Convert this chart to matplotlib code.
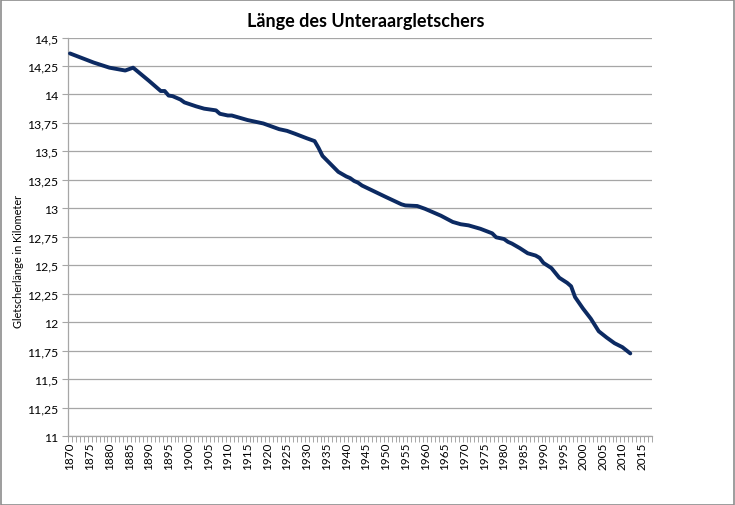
import matplotlib
matplotlib.use("Agg")
import matplotlib.pyplot as plt
from matplotlib.ticker import FuncFormatter, FixedLocator
from matplotlib.patches import Rectangle

# ---- data ----
years = [1870, 1873, 1876, 1880, 1884, 1886, 1890, 1893, 1894, 1895, 1896, 1898,
         1899, 1902, 1904, 1907, 1908, 1910, 1911, 1913, 1915, 1919, 1921, 1923,
         1925, 1927, 1930, 1932, 1933, 1934, 1936, 1938, 1940, 1941, 1942, 1943,
         1944, 1950, 1954, 1955, 1958, 1960, 1962, 1964, 1967, 1969, 1971, 1974,
         1977, 1978, 1980, 1981, 1982, 1984, 1986, 1988, 1989, 1990, 1992, 1994,
         1996, 1997, 1998, 2000, 2002, 2004, 2006, 2008, 2010, 2012]
length_km = [14.36, 14.32, 14.28, 14.235, 14.21, 14.235, 14.12, 14.03, 14.03, 13.99,
             13.985, 13.955, 13.93, 13.895, 13.875, 13.86, 13.83, 13.815, 13.815,
             13.795, 13.775, 13.745, 13.72, 13.695, 13.68, 13.655, 13.615, 13.59,
             13.53, 13.46, 13.39, 13.32, 13.28, 13.265, 13.24, 13.225, 13.20, 13.10,
             13.035, 13.025, 13.02, 12.995, 12.965, 12.935, 12.88, 12.86, 12.85,
             12.82, 12.78, 12.745, 12.73, 12.705, 12.69, 12.65, 12.605, 12.585,
             12.565, 12.52, 12.475, 12.39, 12.345, 12.315, 12.22, 12.12, 12.03,
             11.92, 11.865, 11.815, 11.78, 11.725]
x_tick_years = list(range(1870, 2016, 5))
y_ticks = [11, 11.25, 11.5, 11.75, 12, 12.25, 12.5, 12.75, 13, 13.25, 13.5,
           13.75, 14, 14.25, 14.5]

title = "Länge des Unteraargletschers"
ylabel = "Gletscherlänge in Kilometer"

FONT = ["Lato", "DejaVu Sans"]
plt.rcParams["font.family"] = FONT

W, H = 735, 506
fig = plt.figure(figsize=(W / 100, H / 100), dpi=100)
fig.patch.set_facecolor("white")
fig.patches.append(Rectangle((0.5 / W, 0.5 / H), 1 - 1.5 / W, 1 - 1.5 / H,
                             transform=fig.transFigure, fill=False,
                             edgecolor="#8c8c8c", linewidth=1.2))

left, right, top, bottom = 68, 652, 38.5, 437
ax = fig.add_axes([left / W, 1 - bottom / H, (right - left) / W, (bottom - top) / H])

ax.plot(years, length_km, color="#0c2a62", linewidth=2.8,
        solid_joinstyle="round", solid_capstyle="round", zorder=3)

ax.set_xlim(1869.5, 2017.5)
ax.set_ylim(11, 14.5)

ax.yaxis.set_major_locator(FixedLocator(y_ticks))
ax.yaxis.set_major_formatter(FuncFormatter(lambda v, p: ("%g" % v).replace(".", ",")))
ax.grid(axis="y", color="#a6a6a6", linewidth=0.9, zorder=0)

ax.xaxis.set_major_locator(FixedLocator(x_tick_years))
ax.xaxis.set_minor_locator(FixedLocator([y + 0.5 for y in range(1869, 2018)]))
ax.xaxis.set_major_formatter(FuncFormatter(lambda v, p: "%d" % v))

ax.tick_params(axis="x", which="major", length=0, pad=4, labelsize=8.5,
               labelrotation=90, colors="#000000")
ax.tick_params(axis="x", which="minor", length=4, width=0.7, color="#a6a6a6")
ax.tick_params(axis="y", which="major", length=4, width=0.8, color="#a6a6a6",
               labelsize=8.8, pad=3)

for s in ["top", "right"]:
    ax.spines[s].set_visible(False)
for s in ["left", "bottom"]:
    ax.spines[s].set_color("#a6a6a6")
    ax.spines[s].set_linewidth(0.9)

fig.text(365.5 / W, 1 - 22 / H, title, ha="center", va="center",
         fontsize=13, fontweight="bold", family=FONT)
fig.text(19 / W, 1 - 261 / H, ylabel, ha="center", va="center",
         rotation=90, fontsize=7.8, family=FONT)

fig.savefig("out.png", dpi=100)
